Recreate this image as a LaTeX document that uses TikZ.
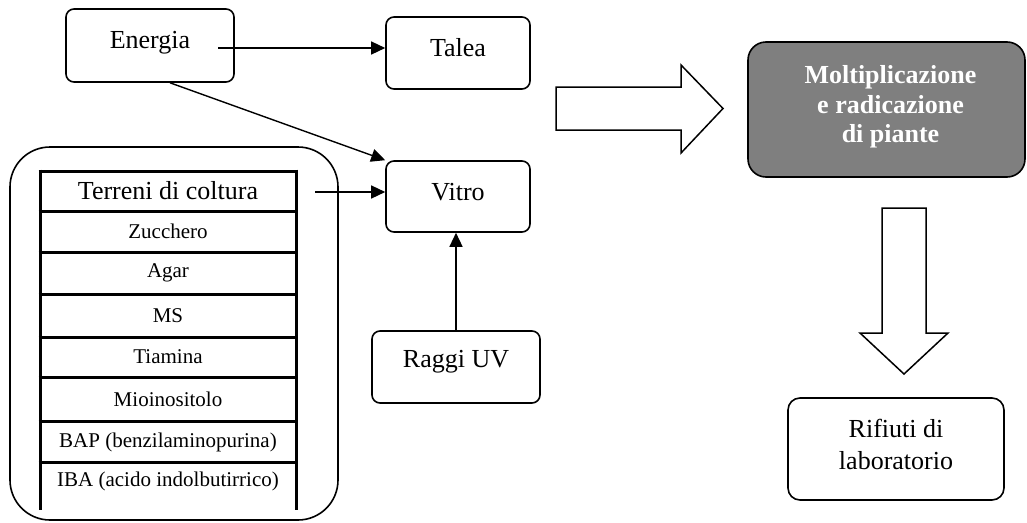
\documentclass[tikz,border=0pt]{standalone}
\usepackage{fontspec}
\setmainfont{Liberation Serif}
\usetikzlibrary{arrows.meta}

\begin{document}
\begin{tikzpicture}[x=1pt,y=-1pt,
  box/.style={draw, line width=1.6pt, rounded corners=8pt, inner sep=0pt},
  big/.style={font=\fontsize{26}{32}\selectfont, align=center, inner sep=0pt},
  small/.style={font=\fontsize{21}{25}\selectfont, inner sep=0pt},
  conn/.style={line width=1.4pt, -{Triangle[length=14pt,width=13pt]}},
  tabline/.style={line width=3pt},
  blockarrow/.style={draw, line width=1.5pt, fill=white, line join=miter}
]
\useasboundingbox (0,0) rectangle (1027,522);

% input and process boxes
\node[box, minimum width=168pt, minimum height=73pt,
      label={[big, name=tE, yshift=2.5pt]center:Energia}] (E) at (150,45.5) {};
\node[box, minimum width=144pt, minimum height=72pt,
      label={[big, name=tT, yshift=5pt]center:Talea}] (T) at (458,53) {};
\node[box, minimum width=144pt, minimum height=71pt,
      label={[big, name=tV, yshift=4.5pt]center:Vitro}] (V) at (458,196.5) {};
\node[box, minimum width=168pt, minimum height=72pt,
      label={[big, name=tR, yshift=5pt]center:Raggi UV}] (R) at (456,367) {};

% result boxes
\node[box, rounded corners=18pt, fill={rgb,255:red,127;green,127;blue,127},
      minimum width=277pt, minimum height=135pt,
      label={[big, name=tM, yshift=2.5pt, xshift=4pt, text=white,
              font=\fontsize{26}{29.5}\selectfont\bfseries]center:Moltiplicazione\\e radicazione\\di piante}] (M) at (886.5,109.5) {};
\node[box, rounded corners=12pt, minimum width=216pt, minimum height=102pt,
      label={[big, name=tW, yshift=5pt]center:Rifiuti di\\laboratorio}] (W) at (896,449) {};

% culture media container
\node[draw, line width=1.6pt, rounded corners=40pt, inner sep=0pt,
      minimum width=328pt, minimum height=373pt] (C) at (174,333.5) {};

% culture media table
\draw[tabline] (40,169.5) -- (40,510);
\draw[tabline] (296,169.5) -- (296,510);
\foreach \yy in {171,211,252,294,337,377,421,462}
  \draw[tabline] (38.5,\yy) -- (297.5,\yy);

\node[big]   (m0) at (168,191)   {Terreni di coltura};
\node[small] (m1) at (168,231.5) {Zucchero};
\node[small] (m2) at (168,273)   {Agar};
\node[small] (m3) at (168,315.5) {MS};
\node[small] (m4) at (168,357)   {Tiamina};
\node[small] (m5) at (168,399)   {Mioinositolo};
\node[small] (m6) at (168,442)   {BAP (benzilaminopurina)};
\node[small] (m7) at (168,481)   {IBA (acido indolbutirrico)};

% connectors
\coordinate (eOut) at (218,48);
\coordinate (cOut) at (315,192);
\draw[conn] (eOut) -- (eOut -| T.west);
\draw[conn] ([xshift=20pt]E.south) -- (V.north west);
\draw[conn] (cOut) -- (cOut -| V.west);
\draw[conn] (R.north) -- (R.north |- V.south);

% block arrows
\path[blockarrow] (556,87) -- (681,87) -- (681,65) -- (723,108.5)
  -- (681,153) -- (681,130) -- (556,130) -- cycle;
\path[blockarrow] (882,208) -- (926,208) -- (926,333) -- (948,333)
  -- (904,374) -- (860,333) -- (882,333) -- cycle;
\end{tikzpicture}
\end{document}
